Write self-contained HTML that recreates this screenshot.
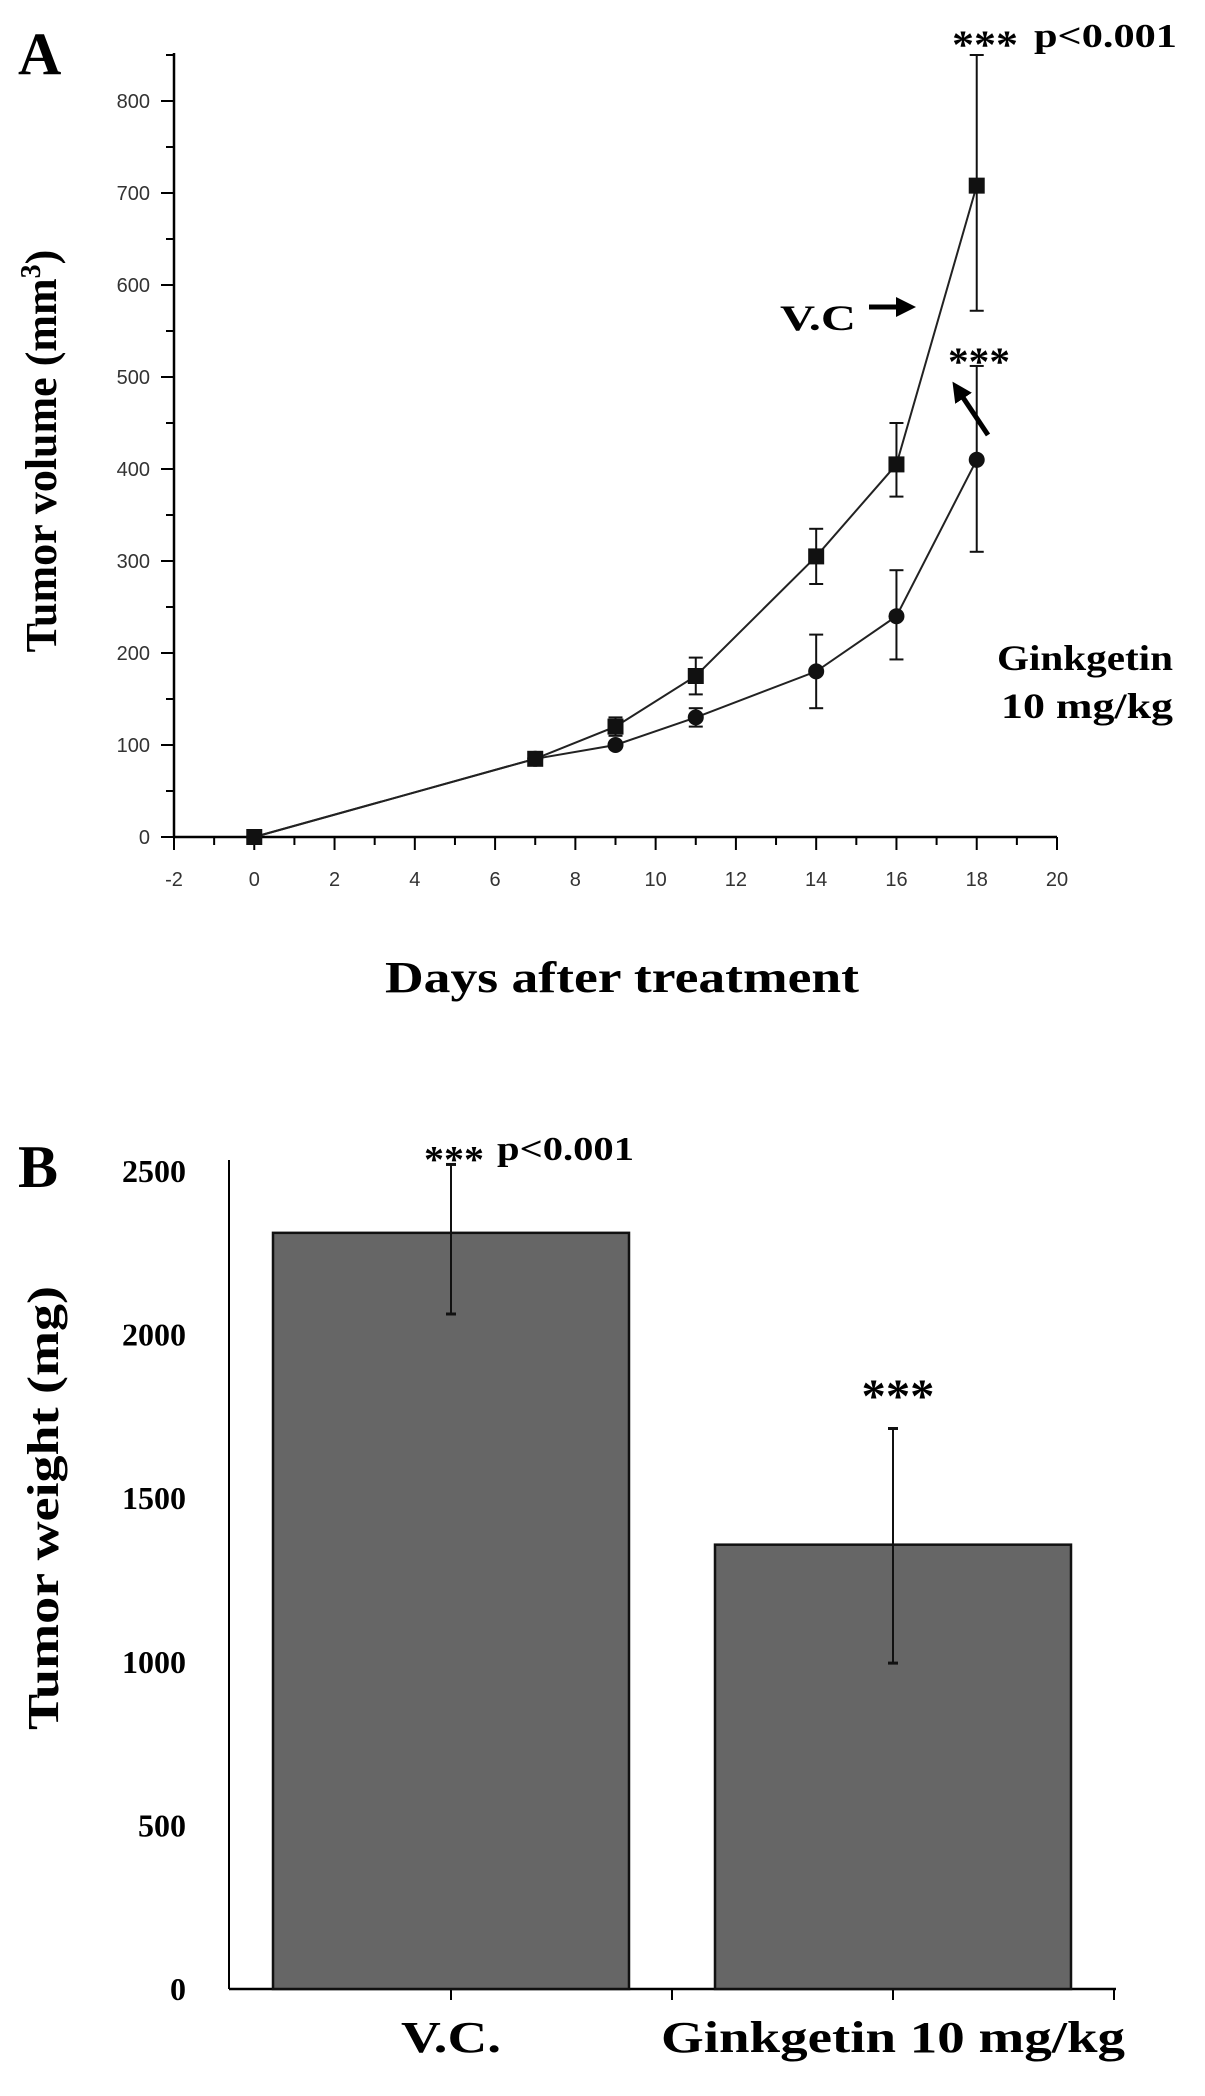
<!DOCTYPE html>
<html><head><meta charset="utf-8"><style>
html,body{margin:0;padding:0;background:#fff;}
svg{display:block;}
.serif{font-family:"Liberation Serif",serif;font-weight:bold;fill:#000;}
.sans{font-family:"Liberation Sans",sans-serif;fill:#333;}
</style></head><body>
<svg id="fig" width="1205" height="2096" viewBox="0 0 1205 2096">
<defs><marker id="ah" markerWidth="4" markerHeight="4" refX="2" refY="2" orient="auto"><path d="M0,0 L4,2 L0,4 z" fill="#000"/></marker></defs>
<g id="chartA"></g>
<g id="chartB"></g>
</svg>
<script>
// Panel A data
const days = [0, 7, 9, 11, 14, 16, 18];
const vcVolume = [0, 85, 120, 175, 305, 405, 708];
const vcLow = [0, 80, 110, 155, 275, 370, 572];
const vcHigh = [0, 90, 130, 195, 335, 450, 850];
const ginkVolume = [0, 85, 100, 130, 180, 240, 410];
const ginkLow = [0, 80, 95, 120, 140, 193, 310];
const ginkHigh = [0, 90, 105, 140, 220, 290, 512];
const xTicksA = [-2, 0, 2, 4, 6, 8, 10, 12, 14, 16, 18, 20];
const yTicksA = [0, 100, 200, 300, 400, 500, 600, 700, 800];
// Panel B data
const groups = ["V.C.", "Ginkgetin 10 mg/kg"];
const weights = [2311, 1358];
const weightLow = [2063, 996];
const weightHigh = [2520, 1713];
const yTicksB = [0, 500, 1000, 1500, 2000, 2500];

const NS = "http://www.w3.org/2000/svg";
function mk(parent, tag, attrs, text) {
  const e = document.createElementNS(NS, tag);
  for (const k in attrs) e.setAttribute(k, attrs[k]);
  if (text !== undefined) e.textContent = text;
  parent.appendChild(e);
  return e;
}
function fit(len) { return {textLength: len, lengthAdjust: 'spacingAndGlyphs'}; }
// ---- Panel A ----
const A = document.getElementById('chartA');
const xA = d => 174 + (d + 2) * (1057 - 174) / 22;
const yA = v => 837 - v * (837 - 101) / 800;
let el;
el = mk(A, 'line', {x1: 174, y1: 837, x2: 1057, y2: 837, stroke: '#000', 'stroke-width': 2.5});


el = mk(A, 'line', {x1: 174, y1: 837, x2: 174, y2: 53, stroke: '#000', 'stroke-width': 2.5});


for (let d = -2; d <= 20; d++) {
  mk(A, 'line', {x1: xA(d), y1: 837, x2: xA(d), y2: d % 2 === 0 ? 850 : 845, stroke: '#000', 'stroke-width': 2});
}
xTicksA.forEach(t => {
  el = mk(A, 'text', {x: xA(t), y: 886, 'text-anchor': 'middle', class: 'sans', 'font-size': 20}, String(t));
  
  
});
for (let v = 0; v <= 850; v += 50) {
  mk(A, 'line', {x1: 174, y1: yA(v), x2: v % 100 === 0 ? 161 : 166, y2: yA(v), stroke: '#000', 'stroke-width': 2});
}
yTicksA.forEach(t => {
  el = mk(A, 'text', {x: 150, y: yA(t) + 7, 'text-anchor': 'end', class: 'sans', 'font-size': 20}, String(t));
  
  
});
function series(vals, lo, hi, shape, name) {
  const pts = days.map((d, i) => xA(d) + ',' + yA(vals[i])).join(' ');
  el = mk(A, 'polyline', {points: pts, fill: 'none', stroke: '#222', 'stroke-width': 2});
  
  
  days.forEach((d, i) => {
    const x = xA(d);
    if (hi[i] - lo[i] > 12) {
      mk(A, 'line', {x1: x, y1: yA(lo[i]), x2: x, y2: yA(hi[i]), stroke: '#111', 'stroke-width': 2});
      mk(A, 'line', {x1: x - 7, y1: yA(lo[i]), x2: x + 7, y2: yA(lo[i]), stroke: '#111', 'stroke-width': 2});
      mk(A, 'line', {x1: x - 7, y1: yA(hi[i]), x2: x + 7, y2: yA(hi[i]), stroke: '#111', 'stroke-width': 2});
    }
    if (shape === 'sq') el = mk(A, 'rect', {x: x - 8, y: yA(vals[i]) - 8, width: 16, height: 16, fill: '#111'});
    else el = mk(A, 'circle', {cx: x, cy: yA(vals[i]), r: 8, fill: '#111'});
    
    
  });
}
series(ginkVolume, ginkLow, ginkHigh, 'ci', 'ginkgetin');
series(vcVolume, vcLow, vcHigh, 'sq', 'vc');

el = mk(A, 'text', {x: 18, y: 74, class: 'serif', 'font-size': 60}, 'A');


el = mk(A, 'text', Object.assign({x: 952, y: 58, class: 'serif', 'font-size': 40}, fit(66)), '***');


el = mk(A, 'text', Object.assign({x: 1034, y: 47, class: 'serif', 'font-size': 34}, fit(143)), 'p<0.001');


el = mk(A, 'text', Object.assign({x: 948, y: 375, class: 'serif', 'font-size': 40}, fit(62)), '***');


el = mk(A, 'text', Object.assign({x: 780, y: 330, class: 'serif', 'font-size': 36}, fit(76)), 'V.C');


el = mk(A, 'line', {x1: 869, y1: 307, x2: 906, y2: 307, stroke: '#000', 'stroke-width': 5, 'marker-end': 'url(#ah)'});


el = mk(A, 'line', {x1: 988, y1: 435, x2: 958, y2: 390, stroke: '#000', 'stroke-width': 5, 'marker-end': 'url(#ah)'});


el = mk(A, 'text', Object.assign({x: 997, y: 670, class: 'serif', 'font-size': 36}, fit(176)), 'Ginkgetin');


el = mk(A, 'text', Object.assign({x: 1001, y: 718, class: 'serif', 'font-size': 36}, fit(172)), '10 mg/kg');


el = mk(A, 'text', Object.assign({x: 622, y: 992, 'text-anchor': 'middle', class: 'serif', 'font-size': 44}, fit(474)), 'Days after treatment');


el = mk(A, 'text', {x: 0, y: 0, 'text-anchor': 'middle', class: 'serif', 'font-size': 44, transform: 'translate(56,451) rotate(-90)'});


el.innerHTML = 'Tumor volume (mm<tspan dy="-16" font-size="28">3</tspan><tspan dy="16">)</tspan>';

// ---- Panel B ----
const B = document.getElementById('chartB');
const yB = v => 1989 - v * (1989 - 1171) / 2500;
const xCenters = [451, 893];
const barW = 356;
el = mk(B, 'line', {x1: 229, y1: 1989, x2: 1116, y2: 1989, stroke: '#000', 'stroke-width': 2.5});


el = mk(B, 'line', {x1: 229, y1: 1989, x2: 229, y2: 1160, stroke: '#000', 'stroke-width': 2});


[451, 672, 893, 1114].forEach(x => mk(B, 'line', {x1: x, y1: 1989, x2: x, y2: 2000, stroke: '#000', 'stroke-width': 2}));
yTicksB.forEach(t => {
  el = mk(B, 'text', {x: 186, y: yB(t) + 11, 'text-anchor': 'end', class: 'serif', 'font-size': 32}, String(t));
  
  
});
const xLabLen = [100, 464];
groups.forEach((g, i) => {
  const cx = xCenters[i];
  el = mk(B, 'rect', {x: cx - barW / 2, y: yB(weights[i]), width: barW, height: 1989 - yB(weights[i]), fill: '#666', stroke: '#111', 'stroke-width': 2.5});
  
  
  el = mk(B, 'line', {x1: cx, y1: yB(weightLow[i]), x2: cx, y2: yB(weightHigh[i]), stroke: '#111', 'stroke-width': 2});
  
  
  mk(B, 'line', {x1: cx - 5, y1: yB(weightLow[i]), x2: cx + 5, y2: yB(weightLow[i]), stroke: '#111', 'stroke-width': 3});
  mk(B, 'line', {x1: cx - 5, y1: yB(weightHigh[i]), x2: cx + 5, y2: yB(weightHigh[i]), stroke: '#111', 'stroke-width': 3});
  el = mk(B, 'text', Object.assign({x: cx, y: 2052, 'text-anchor': 'middle', class: 'serif', 'font-size': 44}, fit(xLabLen[i])), g);
  
  
});
el = mk(B, 'text', {x: 18, y: 1187, class: 'serif', 'font-size': 60}, 'B');


el = mk(B, 'text', Object.assign({x: 424, y: 1172, class: 'serif', 'font-size': 38}, fit(60)), '***');


el = mk(B, 'text', Object.assign({x: 497, y: 1160, class: 'serif', 'font-size': 34}, fit(137)), 'p<0.001');


el = mk(B, 'text', Object.assign({x: 898, y: 1412, 'text-anchor': 'middle', class: 'serif', 'font-size': 48}, fit(73)), '***');


el = mk(B, 'text', Object.assign({x: 0, y: 0, 'text-anchor': 'middle', class: 'serif', 'font-size': 44, transform: 'translate(58,1508) rotate(-90)'}, fit(444)), 'Tumor weight (mg)');


</script>
</body></html>
